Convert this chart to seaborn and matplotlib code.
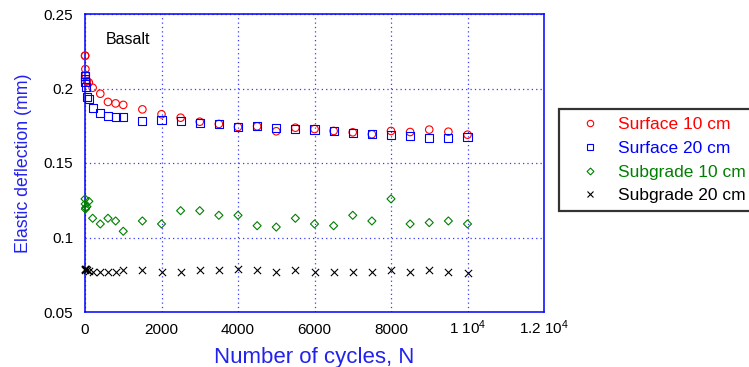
import numpy as np
import pandas as pd
import matplotlib
matplotlib.use("Agg")
import matplotlib.pyplot as plt
import seaborn as sns
from matplotlib.lines import Line2D

# ---- data ----
cycles = [1, 5, 10, 20, 50, 100, 200, 400, 600, 800, 1000, 1500, 2000, 2500,
          3000, 3500, 4000, 4500, 5000, 5500, 6000, 6500, 7000, 7500, 8000,
          8500, 9000, 9500, 10000]
surface10 = [0.222, 0.222, 0.213, 0.209, 0.205, 0.204, 0.2005, 0.1965, 0.191,
             0.190, 0.189, 0.186, 0.1827, 0.1804, 0.1777, 0.1762, 0.1742,
             0.1746, 0.1713, 0.1737, 0.1728, 0.1715, 0.1706, 0.1693, 0.1715,
             0.1708, 0.1724, 0.171, 0.169]
surface20 = [0.2084, 0.2065, 0.2046, 0.2012, 0.1945, 0.1927, 0.1867, 0.1836,
             0.1816, 0.1807, 0.1807, 0.1782, 0.1791, 0.178, 0.1771, 0.176,
             0.174, 0.1746, 0.1735, 0.1726, 0.1725, 0.1713, 0.1704, 0.1697,
             0.1686, 0.1679, 0.167, 0.1666, 0.1672]
subgrade10 = [0.1259, 0.1225, 0.1191, 0.1200, 0.1207, 0.1243, 0.1129, 0.1091,
              0.1129, 0.1111, 0.1042, 0.1111, 0.1091, 0.118, 0.118, 0.1149,
              0.1149, 0.1079, 0.107, 0.1129, 0.1091, 0.1079, 0.1149, 0.1111,
              0.1259, 0.1091, 0.11, 0.1111, 0.1091]
subgrade20 = [0.0790, 0.0787, 0.0785, 0.0790, 0.0783, 0.0778, 0.0771, 0.0767,
              0.0767, 0.0771, 0.078, 0.078, 0.0768, 0.0771, 0.0782, 0.0782,
              0.0791, 0.078, 0.0771, 0.0782, 0.0771, 0.0771, 0.0771, 0.0771,
              0.0782, 0.0771, 0.0782, 0.0771, 0.0760]
series_labels = ["Surface 10 cm", "Surface 20 cm", "Subgrade 10 cm", "Subgrade 20 cm"]
x_ticks = [0, 2000, 4000, 6000, 8000, 10000, 12000]
x_ticklabels = ["0", "2000", "4000", "6000", "8000", r"1 10$^{4}$", r"1.2 10$^{4}$"]
y_ticks = [0.05, 0.1, 0.15, 0.2, 0.25]
y_ticklabels = ["0.05", "0.1", "0.15", "0.2", "0.25"]

# ---- style ----
sns.set_style("white")
plt.rcParams['font.family'] = ['Liberation Sans', 'DejaVu Sans']
plt.rcParams['mathtext.fontset'] = 'custom'
plt.rcParams['mathtext.rm'] = 'Liberation Sans'
plt.rcParams['mathtext.it'] = 'Liberation Sans'
plt.rcParams['mathtext.bf'] = 'Liberation Sans'

BLUE = '#0000ff'
LBLUE = '#2222ee'
colors = ['#ff0000', '#0000ff', '#007f00', '#000000']
markers = ['o', 's', 'D', 'x']
sizes = [5.4, 5.8, 4.1, 5.2]

fig = plt.figure(figsize=(7.49, 3.67), dpi=100)
ax = fig.add_axes([85/749, 1-312/367, 459/749, 298/367])

all_y = [surface10, surface20, subgrade10, subgrade20]
for yv, lab, c, m, ms in zip(all_y, series_labels, colors, markers, sizes):
    df = pd.DataFrame({"N": cycles, "d": yv})
    if m == 'x':
        sns.scatterplot(data=df, x="N", y="d", marker=m, s=ms**2, color=c,
                        linewidth=0.8, ax=ax, clip_on=False, zorder=3)
    else:
        sns.scatterplot(data=df, x="N", y="d", marker=m, s=ms**2,
                        facecolor='none', edgecolor=c, linewidth=0.8,
                        ax=ax, clip_on=False, zorder=3)

ax.set_xlim(0, 12000)
ax.set_ylim(0.05, 0.25)
ax.set_xticks(x_ticks, x_ticklabels)
ax.set_yticks(y_ticks, y_ticklabels)
ax.tick_params(axis='both', direction='in', length=3, color=BLUE,
               labelsize=11, labelcolor='black')
ax.tick_params(axis='y', pad=8.6)
ax.tick_params(axis='x', pad=15.5)
for t in ax.get_xticklabels():
    t.set_va('baseline')

ax.grid(True, color='#3a3aff', linestyle=(0, (1, 2.5)), linewidth=0.9)
ax.set_axisbelow(True)
for sp in ax.spines.values():
    sp.set_color(BLUE)
    sp.set_linewidth(1.1)
    sp.set_visible(True)

ax.set_ylabel("Elastic deflection (mm)", fontsize=12.8, color=LBLUE, va='center')
ax.yaxis.set_label_coords(-0.135, 0.5)
ax.set_xlabel("Number of cycles, N", fontsize=16, color=LBLUE, va='center')
ax.xaxis.set_label_coords(0.5, -0.152)

ax.text(21/459, (312-39)/298, "Basalt", transform=ax.transAxes,
        fontsize=11.5, color='black', ha='left', va='center')

handles = []
for lab, c, m, ms in zip(series_labels, colors, markers, sizes):
    if m == 'x':
        h = Line2D([], [], linestyle='none', marker=m, markersize=ms*0.9,
                   color=c, markeredgewidth=0.8)
    else:
        h = Line2D([], [], linestyle='none', marker=m, markersize=ms*0.85,
                   markerfacecolor='none', markeredgecolor=c, markeredgewidth=0.8)
    handles.append(h)

leg = fig.legend(handles, series_labels, loc='upper left',
                 bbox_to_anchor=(559/749, 1-109/367),
                 frameon=True, fancybox=False, edgecolor='black',
                 fontsize=12.5, borderpad=0.45, handlelength=2.65,
                 handletextpad=0.29, labelspacing=0.5, borderaxespad=0)
leg.get_frame().set_linewidth(1.6)
for t, c in zip(leg.get_texts(), colors):
    t.set_color(c)

fig.savefig("out.png", dpi=100)
